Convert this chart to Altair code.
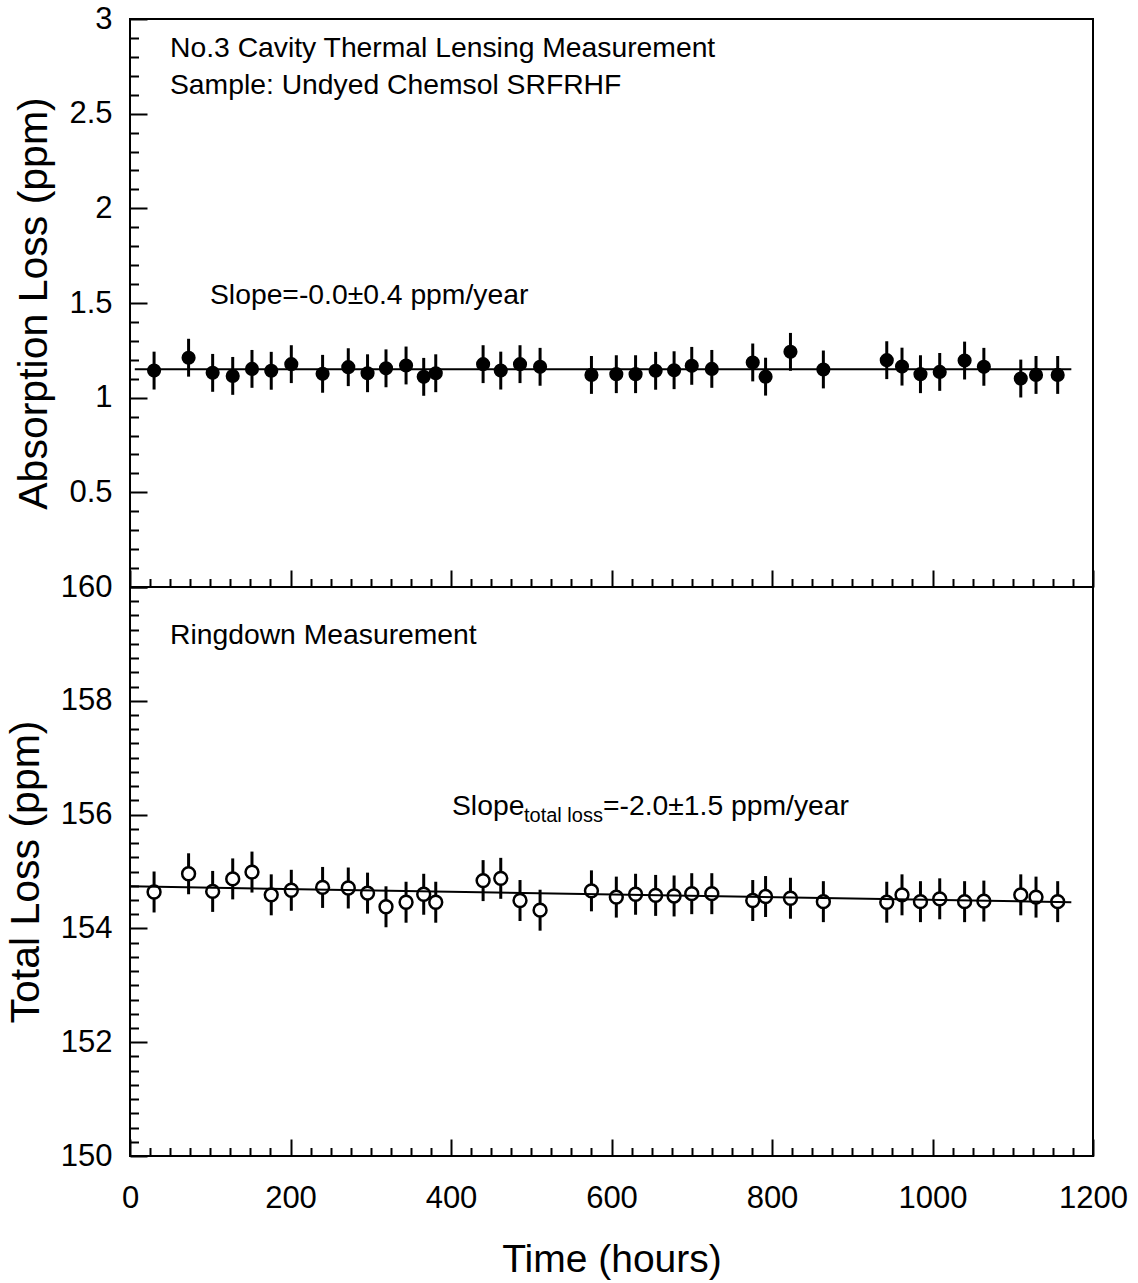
import altair as alt
import pandas as pd

# ---------------- data ----------------
hours = [30, 73, 103, 128, 152, 176, 201, 240, 272, 296, 319, 344, 366, 381,
         440, 462, 486, 511, 575, 606, 630, 655, 678, 700, 725, 776, 792, 823,
         864, 943, 962, 985, 1009, 1040, 1064, 1110, 1129, 1156]

absorption = [1.143, 1.211, 1.131, 1.115, 1.152, 1.142, 1.177, 1.126, 1.161, 1.129,
              1.155, 1.170, 1.110, 1.129, 1.177, 1.143, 1.177, 1.163, 1.120, 1.124,
              1.124, 1.142, 1.145, 1.168, 1.152, 1.186, 1.111, 1.242, 1.149, 1.198,
              1.164, 1.124, 1.136, 1.196, 1.163, 1.101, 1.120, 1.120]
absorption_err = [0.10, 0.10, 0.10, 0.10, 0.10, 0.10, 0.10, 0.10, 0.10, 0.10,
                  0.10, 0.10, 0.10, 0.10, 0.10, 0.10, 0.10, 0.10, 0.10, 0.10,
                  0.10, 0.10, 0.10, 0.10, 0.10, 0.10, 0.10, 0.10, 0.10, 0.10,
                  0.10, 0.10, 0.10, 0.10, 0.10, 0.10, 0.10, 0.10]

total_loss = [154.64, 154.96, 154.65, 154.87, 154.99, 154.59, 154.67, 154.72, 154.71, 154.62,
              154.38, 154.46, 154.60, 154.46, 154.84, 154.88, 154.49, 154.32, 154.66, 154.55,
              154.60, 154.58, 154.57, 154.61, 154.61, 154.49, 154.56, 154.53, 154.47, 154.46,
              154.59, 154.47, 154.52, 154.47, 154.48, 154.59, 154.55, 154.47]
total_err = [0.36, 0.36, 0.36, 0.36, 0.36, 0.36, 0.36, 0.36, 0.36, 0.36,
             0.36, 0.36, 0.36, 0.36, 0.36, 0.36, 0.36, 0.36, 0.36, 0.36,
             0.36, 0.36, 0.36, 0.36, 0.36, 0.36, 0.36, 0.36, 0.36, 0.36,
             0.36, 0.36, 0.36, 0.36, 0.36, 0.36, 0.36, 0.36]

fit_hours_top = [6, 1173]
fit_absorption = [1.150, 1.150]
fit_hours_bottom = [0, 1173]
fit_total = [154.74, 154.46]

x_label_values = [0, 200, 400, 600, 800, 1000, 1200]
x_minor_values = list(range(0, 1201, 25))
y_top_labels = [0.5, 1, 1.5, 2, 2.5, 3]
y_top_minor = [round(i * 0.1, 1) for i in range(31)]
y_bot_labels = [150, 152, 154, 156, 158, 160]
y_bot_minor = [150 + i * 0.25 for i in range(41)]

text_title1 = "No.3 Cavity Thermal Lensing Measurement"
text_title2 = "Sample: Undyed Chemsol SRFRHF"
text_slope_top = "Slope=-0.0\u00b10.4 ppm/year"
text_ringdown = "Ringdown Measurement"
text_slope_main = "Slope"
text_slope_sub = "total loss"
text_slope_rest = "=-2.0\u00b11.5 ppm/year"

# ---------------- tables ----------------
df = pd.DataFrame({"t": hours, "a": absorption, "a_err": absorption_err,
                   "L": total_loss, "L_err": total_err})
df["a_lo"] = df["a"] - df["a_err"]
df["a_hi"] = df["a"] + df["a_err"]
df["L_lo"] = df["L"] - df["L_err"]
df["L_hi"] = df["L"] + df["L_err"]
fit_top_df = pd.DataFrame({"t": fit_hours_top, "v": fit_absorption})
fit_bot_df = pd.DataFrame({"t": fit_hours_bottom, "v": fit_total})

FONT = "Liberation Sans"
W = 963
H1 = 568
H2 = 569

xscale = alt.Scale(domain=[0, 1200], nice=False, zero=False)
ys_top = alt.Scale(domain=[0, 3], nice=False, zero=False)
ys_bot = alt.Scale(domain=[150, 160], nice=False, zero=False)


def x_tick_axis(h):
    return alt.Axis(orient="top", offset=-h, values=x_minor_values, labels=False,
                    domain=False, grid=False, title=None, tickWidth=2, tickColor="black",
                    tickSize={"condition": {"test": "datum.value % 200 === 0", "value": 17},
                              "value": 8.5})


def y_tick_axis(values, test):
    return alt.Axis(orient="right", offset=-W, values=values, labels=False,
                    domain=False, grid=False, title=None, tickWidth=2, tickColor="black",
                    tickSize={"condition": {"test": test, "value": 17}, "value": 8.5})


def y_label_axis(values, title):
    return alt.Axis(orient="left", values=values, ticks=False, domain=False, grid=False,
                    labelFontSize=31, labelPadding=18, labelColor="black", format="~g",
                    labelFont=FONT, title=title, titleFont=FONT, titleFontSize=41,
                    titleFontWeight="normal", titleColor="black", titlePadding=13)


def text_layer(s, x, y, size=28, baseline="middle"):
    return alt.Chart(pd.DataFrame({"label": [s]})).mark_text(
        align="left", baseline=baseline, font=FONT, fontSize=size, color="black"
    ).encode(x=alt.value(x), y=alt.value(y), text="label:N")


# ---------------- top panel ----------------
bars_top = alt.Chart(df).mark_rule(color="black", strokeWidth=3).encode(
    x=alt.X("t:Q", scale=xscale, axis=x_tick_axis(H1)),
    y=alt.Y("a_lo:Q", scale=ys_top,
            axis=y_tick_axis(y_top_minor, "abs(datum.value*2 - round(datum.value*2)) < 0.001")),
    y2="a_hi:Q",
)
pts_top = alt.Chart(df).mark_point(shape="circle", filled=True, color="black",
                                   size=200, opacity=1).encode(
    x=alt.X("t:Q", scale=xscale, axis=None),
    y=alt.Y("a:Q", scale=ys_top, axis=y_label_axis(y_top_labels, "Absorption Loss (ppm)")),
)
fit_top = alt.Chart(fit_top_df).mark_line(color="black", strokeWidth=2).encode(
    x=alt.X("t:Q", scale=xscale, axis=None),
    y=alt.Y("v:Q", scale=ys_top, axis=None),
)
top = alt.layer(
    bars_top, pts_top, fit_top,
    text_layer(text_title1, 40, 30, 28.3),
    text_layer(text_title2, 40, 67, 28.3),
    text_layer(text_slope_top, 80, 277, 28.3),
).resolve_axis(x="independent", y="independent").properties(width=W, height=H1)

# ---------------- bottom panel ----------------
bars_bot = alt.Chart(df).mark_rule(color="black", strokeWidth=3).encode(
    x=alt.X("t:Q", scale=xscale, axis=x_tick_axis(H2)),
    y=alt.Y("L_lo:Q", scale=ys_bot,
            axis=y_tick_axis(y_bot_minor, "datum.value % 2 === 0")),
    y2="L_hi:Q",
)
pts_bot = alt.Chart(df).mark_point(shape="circle", filled=True, fill="white", stroke="black",
                                   strokeWidth=2.5, size=165, opacity=1).encode(
    x=alt.X("t:Q", scale=xscale,
            axis=alt.Axis(orient="bottom", values=x_label_values, ticks=False, domain=False,
                          grid=False, labelFlush=False, labelFontSize=31, labelPadding=27,
                          labelColor="black", labelFont=FONT, format="d",
                          title="Time (hours)", titleFont=FONT, titleFontSize=39,
                          titleFontWeight="normal", titleColor="black", titlePadding=27)),
    y=alt.Y("L:Q", scale=ys_bot, axis=y_label_axis(y_bot_labels, "Total Loss (ppm)")),
)
fit_bot = alt.Chart(fit_bot_df).mark_line(color="black", strokeWidth=2).encode(
    x=alt.X("t:Q", scale=xscale, axis=None),
    y=alt.Y("v:Q", scale=ys_bot, axis=None),
)
bottom = alt.layer(
    bars_bot, pts_bot, fit_bot,
    text_layer(text_ringdown, 40, 49, 28.3),
    text_layer(text_slope_main, 322, 228, 28.3, "alphabetic"),
    text_layer(text_slope_sub, 394, 235, 20, "alphabetic"),
    text_layer(text_slope_rest, 473, 228, 28.3, "alphabetic"),
).resolve_axis(x="independent", y="independent").properties(width=W, height=H2)

chart = alt.vconcat(top, bottom, spacing=0, bounds="flush").properties(
    padding={"left": 4, "top": 2, "right": 5, "bottom": 5},
    background="white",
).configure_view(stroke="black", strokeWidth=2).configure_concat(spacing=0)

chart.save("out.html", embed_options={"renderer": "svg", "actions": False})
